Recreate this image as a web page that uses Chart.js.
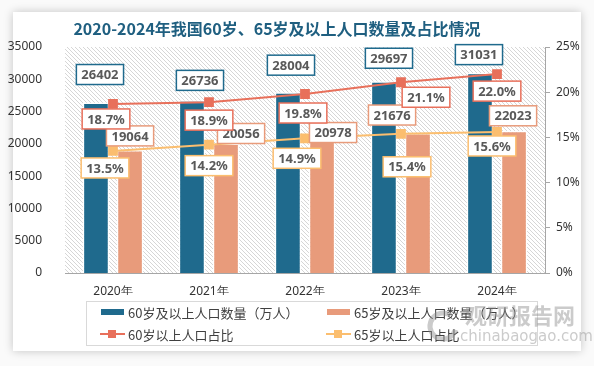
<!DOCTYPE html>
<html>
<head>
<meta charset="utf-8">
<script src="https://cdn.jsdelivr.net/npm/chart.js@4"></script>
<style>
  body { margin: 0; background: #f4f4f4; }
  #wrap { position: relative; width: 594px; height: 366px; overflow: hidden; background: #fafafa; }
  #card { position: absolute; left: 13px; top: 12px; width: 568px; height: 339px; background: #fff;
          box-shadow: 0 0 9px rgba(0,0,0,0.22); }
  #chart { position: absolute; left: 0; top: 0; }
</style>
</head>
<body>
<div id="wrap">
  <div id="card"></div>
  <canvas id="chart" width="594" height="366"></canvas>
</div>
<script>
const years = ['2020年', '2021年', '2022年', '2023年', '2024年'];
const pop60 = [26402, 26736, 28004, 29697, 31031];
const pop65 = [19064, 20056, 20978, 21676, 22023];
const share60 = [18.7, 18.9, 19.8, 21.1, 22.0];
const share65 = [13.5, 14.2, 14.9, 15.4, 15.6];

const BLUE = '#1f6a8d';
const SALMON = '#e89b7b';
const RED = '#e8705b';
const ORANGE = '#fbbe6f';
const CJK = '"Noto Sans CJK SC", "Noto Sans", sans-serif';

// label box offsets from each mark (bars: from top centre, lines: from point)
const labelOffsets = [
    [[4, -28], [8, -20], [3, -27], [5, -23], [-1, -18]],
    [[0, -14], [15, -10], [11, -5], [-26, -18], [-1, -15]],
    [[-7, 15], [0, 18], [-2, 19], [25, 15], [0, 17]],
    [[-8, 17], [0, 21], [-8, 20], [6, 33], [-5, 14]]
];

function makeHatch() {
    const c = document.createElement('canvas');
    c.width = 4; c.height = 4;
    const g = c.getContext('2d');
    g.fillStyle = '#fff';
    g.fillRect(0, 0, 4, 4);
    g.strokeStyle = '#d6d6d6';
    g.lineWidth = 1;
    g.beginPath();
    g.moveTo(-1, -1); g.lineTo(5, 5);
    g.moveTo(-1, 3); g.lineTo(1, 5);
    g.moveTo(3, -1); g.lineTo(5, 1);
    g.stroke();
    return c;
}

const hatchPlugin = {
    id: 'hatch',
    beforeDraw(chart) {
        const { ctx, chartArea: a } = chart;
        ctx.save();
        ctx.fillStyle = ctx.createPattern(makeHatch(), 'repeat');
        ctx.fillRect(a.left, a.top, a.right - a.left, a.bottom - a.top);
        ctx.restore();
    }
};

const labelPlugin = {
    id: 'boxLabels',
    afterDatasetsDraw(chart) {
        const ctx = chart.ctx;
        ctx.save();
        ctx.font = 'bold 13px "Noto Sans", sans-serif';
        ctx.textAlign = 'center';
        ctx.textBaseline = 'middle';
        chart.data.datasets.forEach(function (ds, i) {
            const meta = chart.getDatasetMeta(i);
            meta.data.forEach(function (el, j) {
                const v = ds.data[j];
                const txt = ds.type === 'line' ? v.toFixed(1) + '%' : String(v);
                const off = labelOffsets[i][j];
                const cx = el.x + off[0];
                const cy = el.y + off[1];
                const w = ctx.measureText(txt).width + 10;
                const h = 20;
                ctx.fillStyle = '#fff';
                ctx.fillRect(cx - w / 2, cy - h / 2, w, h);
                ctx.strokeStyle = ds.labelBorder;
                ctx.lineWidth = 1.5;
                ctx.strokeRect(cx - w / 2, cy - h / 2, w, h);
                ctx.fillStyle = '#595959';
                ctx.fillText(txt, cx, cy + 1);
            });
        });
        ctx.restore();
    }
};

const framePlugin = {
    id: 'frame',
    afterDraw(chart) {
        const ctx = chart.ctx;
        ctx.save();
        // title
        ctx.font = 'bold 16px ' + CJK;
        ctx.fillStyle = '#1f5f80';
        ctx.textAlign = 'center';
        ctx.textBaseline = 'middle';
        ctx.fillText('2020-2024年我国60岁、65岁及以上人口数量及占比情况', 277, 29);

        // legend
        ctx.strokeStyle = '#d9d9d9';
        ctx.lineWidth = 1;
        ctx.strokeRect(86.5, 301.5, 451, 44);
        const spots = [[101, 312], [327, 312], [101, 334], [327, 334]];
        ctx.font = '13px ' + CJK;
        ctx.textAlign = 'left';
        chart.data.datasets.forEach(function (ds, i) {
            const [x, y] = spots[i];
            if (ds.type === 'line') {
                ctx.strokeStyle = ds.borderColor;
                ctx.lineWidth = 2;
                ctx.beginPath();
                ctx.moveTo(x - 1, y); ctx.lineTo(x + 24, y);
                ctx.stroke();
                ctx.fillStyle = ds.borderColor;
                ctx.fillRect(x + 7, y - 4, 8, 8);
            } else {
                ctx.fillStyle = ds.backgroundColor;
                ctx.fillRect(x, y - 3, 23, 6);
            }
            ctx.fillStyle = '#404040';
            ctx.fillText(ds.label, x + 27, y + 1);
        });

        // watermark
        ctx.globalAlpha = 0.45;
        ctx.fillStyle = '#8c8c8c';
        ctx.font = 'bold 22px ' + CJK;
        ctx.fillText('观研报告网', 465, 316);
        ctx.font = '15px "DejaVu Sans", sans-serif';
        ctx.fillText('chinabaogao.com', 460, 337);
        ctx.strokeStyle = '#8c8c8c';
        ctx.lineWidth = 5;
        ctx.beginPath();
        ctx.arc(443, 326, 13, 0.3, Math.PI * 1.7);
        ctx.stroke();
        ctx.restore();
    }
};

new Chart(document.getElementById('chart'), {
    data: {
        labels: years,
        datasets: [
            {
                type: 'bar', label: '60岁及以上人口数量（万人）', data: pop60,
                backgroundColor: BLUE, borderColor: '#fff', borderWidth: 1.5,
                labelBorder: BLUE, yAxisID: 'y', order: 2,
                categoryPercentage: 0.71, barPercentage: 0.78
            },
            {
                type: 'bar', label: '65岁及以上人口数量（万人）', data: pop65,
                backgroundColor: SALMON, borderColor: '#fff', borderWidth: 1.5,
                labelBorder: SALMON, yAxisID: 'y', order: 2,
                categoryPercentage: 0.71, barPercentage: 0.78
            },
            {
                type: 'line', label: '60岁以上人口占比', data: share60,
                borderColor: RED, backgroundColor: RED, borderWidth: 2,
                pointStyle: 'rect', pointRadius: 5.5, labelBorder: RED,
                yAxisID: 'y1', order: 1
            },
            {
                type: 'line', label: '65岁以上人口占比', data: share65,
                borderColor: ORANGE, backgroundColor: ORANGE, borderWidth: 2,
                pointStyle: 'rect', pointRadius: 5.5, labelBorder: ORANGE,
                yAxisID: 'y1', order: 1
            }
        ]
    },
    options: {
        responsive: false,
        animation: false,
        devicePixelRatio: 1,
        layout: { padding: { top: 47, left: 0, right: 0, bottom: 71 } },
        plugins: { legend: { display: false }, title: { display: false }, tooltip: { enabled: false } },
        scales: {
            x: {
                grid: { display: false },
                border: { color: '#a6a6a6' },
                ticks: { color: '#333', font: { size: 12, family: '"Noto Sans", sans-serif' }, padding: 3 },
                afterFit(s) { s.height = 22; }
            },
            y: {
                position: 'left', min: 0, max: 35000,
                grid: { display: false },
                border: { display: false },
                ticks: {
                    stepSize: 5000, color: '#333', padding: 15,
                    font: { size: 12, family: '"Noto Sans", sans-serif' },
                    callback: v => String(v)
                },
                afterFit(s) { s.width = 65; }
            },
            y1: {
                position: 'right', min: 0, max: 25,
                grid: { drawOnChartArea: false, color: '#a6a6a6', tickLength: 5 },
                border: { color: '#a6a6a6' },
                ticks: {
                    stepSize: 5, color: '#333', padding: 6,
                    font: { size: 12, family: '"Noto Sans", sans-serif' },
                    callback: v => v + '%'
                },
                afterFit(s) { s.width = 49; }
            }
        }
    },
    plugins: [hatchPlugin, labelPlugin, framePlugin]
});
</script>
</body>
</html>
